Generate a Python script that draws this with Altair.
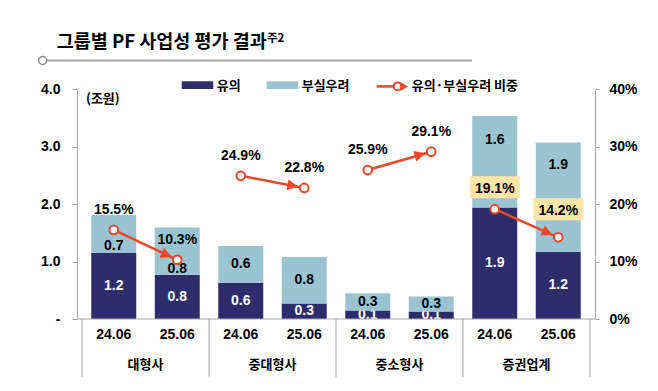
import math
import altair as alt
import pandas as pd

# ---------------- data ----------------
groups = ["대형사", "중대형사", "중소형사", "증권업계"]
periods = ["24.06", "25.06"]
caution = [1.15, 0.77, 0.63, 0.27, 0.15, 0.13, 1.94, 1.17]        # 유의 (조원)
insolvent = [0.66, 0.82, 0.64, 0.81, 0.30, 0.26, 1.59, 1.90]      # 부실우려 (조원)
caution_text = ["1.2", "0.8", "0.6", "0.3", "0.1", "0.1", "1.9", "1.2"]
insolvent_text = ["0.7", "0.8", "0.6", "0.8", "0.3", "0.3", "1.6", "1.9"]
ratio = [15.5, 10.3, 24.9, 22.8, 25.9, 29.1, 19.1, 14.2]          # 유의·부실우려 비중 (%)
y_ticks = [0, 1, 2, 3, 4]
pct_ticks = [0, 10, 20, 30, 40]
series_names = ["유의", "부실우려"]
line_name = "유의·부실우려 비중"
unit_text = "(조원)"
title_text = "그룹별 PF 사업성 평가 결과"
title_sup = "주2"

# ---------------- styles ----------------
W, H = 518, 230
DARK = "#2E2D6B"
LIGHT = "#9BC4D3"
ORANGE = "#E8472A"
BOX = "#FFE6A6"
GRAY = "#A6A6A6"
KFONT = "Noto Sans CJK KR"
NFONT = "Liberation Sans"
ARROW = "M -0.6 0 L -1.7 -0.55 L -1.7 0.55 Z"
LEG_ARROW = "M 1.05 0 L 0.3 -0.45 L 0.3 0.45 Z"
RECT = "M -2.5 -1.1 L 2.5 -1.1 L 2.5 1.1 L -2.5 1.1 Z"

n = len(caution)
lab_rows, pct_rows = [], []
for i in range(n):
    pos = i + 0.5
    lab_rows.append(dict(idx=i, pos=pos, zero=0.0, c_top=caution[i],
                         total=caution[i] + insolvent[i],
                         c_mid=caution[i] / 2,
                         i_mid=caution[i] + insolvent[i] / 2,
                         c_text=caution_text[i], i_text=insolvent_text[i],
                         period=periods[i % 2]))
    pct_rows.append(dict(idx=i, pos=pos, grp=i // 2, ratio=ratio[i],
                         label=f"{ratio[i]:.1f}%"))
lab_df = pd.DataFrame(lab_rows)
pct_df = pd.DataFrame(pct_rows)

arrow_rows = []
for g in range(len(groups)):
    r1, r2 = ratio[2 * g], ratio[2 * g + 1]
    ang = math.degrees(math.atan2(-(r2 - r1) / 40 * H, W / n)) % 360
    arrow_rows.append(dict(pos=2 * g + 1.5, ratio=r2, angle=ang))
arrow_df = pd.DataFrame(arrow_rows)

grp_df = pd.DataFrame(dict(name=groups, pos=[2 * g + 1 for g in range(len(groups))]))
sep_df = pd.DataFrame(dict(b=[2 * g for g in range(len(groups) + 1)]))
one = pd.DataFrame(dict(a=[0]))

xs = alt.Scale(domain=[0, n], nice=False, zero=False)
X = alt.X("pos:Q", scale=xs, axis=None)

def ys():
    return alt.Scale(domain=[0, 4], nice=False)

def ps():
    return alt.Scale(domain=[0, 40], nice=False)

left_axis = alt.Axis(values=y_ticks, orient="left", title=None, grid=False,
                     labelExpr="datum.value == 0 ? '-' : format(datum.value, '.1f')",
                     domainColor=GRAY, tickColor=GRAY, tickSize=5, domainWidth=1,
                     labelFont=NFONT, labelFontSize=14, labelFontWeight="bold",
                     labelColor="#000000", labelPadding=12)
right_axis = alt.Axis(values=pct_ticks, orient="right", title=None, grid=False,
                      labelExpr="datum.value + '%'",
                      domainColor=GRAY, tickColor=GRAY, tickSize=4, domainWidth=1,
                      labelFont=NFONT, labelFontSize=14, labelFontWeight="bold",
                      labelColor="#000000", labelPadding=10)

layers = []

# ---------------- decoration / legend (pixel placed) ----------------
def txt(s, x, y, size=13, align="left", font=KFONT):
    return alt.Chart(one).mark_text(font=font, fontSize=size, fontWeight="bold", color="#000000",
                                    align=align, baseline="middle").encode(
        x=alt.value(x), y=alt.value(y), text=alt.value(s))

layers.append(alt.Chart(one).mark_rule(color=GRAY, strokeWidth=2).encode(
    x=alt.value(-30), x2=alt.value(395), y=alt.value(-28.5)))
layers.append(alt.Chart(one).mark_point(shape="circle", size=64, fill="white", fillOpacity=1,
                                        stroke="#8C8C8C", strokeWidth=1.5, opacity=1).encode(
    x=alt.value(-34.3), y=alt.value(-28.5)))
layers.append(txt(title_text, -20.3, -47.3, size=18.5))
layers.append(txt(title_sup, 190, -50.5, size=11.5))
layers.append(txt(unit_text, 9, 9.7))

layers.append(alt.Chart(one).mark_rect(color=DARK).encode(
    x=alt.value(104.7), x2=alt.value(136.3), y=alt.value(-7.7), y2=alt.value(0)))
layers.append(alt.Chart(one).mark_rect(color=LIGHT).encode(
    x=alt.value(189.7), x2=alt.value(221.3), y=alt.value(-7.7), y2=alt.value(0)))
layers.append(txt(series_names[0], 139.7, -2.6))
layers.append(txt(series_names[1], 224.7, -2.6))
layers.append(alt.Chart(one).mark_rule(color=ORANGE, strokeWidth=2.5).encode(
    x=alt.value(299.7), x2=alt.value(318), y=alt.value(-2.6)))
layers.append(alt.Chart(one).mark_point(shape="circle", size=60, fill="white", fillOpacity=1,
                                        stroke=ORANGE, strokeWidth=2, opacity=1).encode(
    x=alt.value(320.5), y=alt.value(-2.6)))
layers.append(alt.Chart(one).mark_point(shape=LEG_ARROW, size=400, filled=True, color=ORANGE,
                                        opacity=1).encode(x=alt.value(320.5), y=alt.value(-2.6)))
layers.append(txt(line_name, 334.7, -2.6))

# ---------------- bars (dark, its labels, then light on top) ----------------
layers.append(alt.Chart(lab_df).mark_bar(size=45, color=DARK).encode(
    x=X, y=alt.Y("zero:Q", scale=ys(), axis=left_axis), y2="c_top:Q"))
layers.append(alt.Chart(lab_df).mark_text(font=NFONT, fontSize=14, fontWeight="bold", color="white").encode(
    x=X, y=alt.Y("c_mid:Q", scale=ys(), axis=None), text="c_text:N"))
layers.append(alt.Chart(lab_df).mark_bar(size=45, color=LIGHT).encode(
    x=X, y=alt.Y("c_top:Q", scale=ys(), axis=None), y2="total:Q"))

i_nudge = {0: 12, 1: 18, 6: -22, 7: -32}
layers.append(alt.Chart(lab_df).transform_filter(
    "indexof([" + ",".join(str(k) for k in i_nudge) + "], datum.idx) < 0"
).mark_text(font=NFONT, fontSize=14, fontWeight="bold", color="#000000").encode(
    x=X, y=alt.Y("i_mid:Q", scale=ys(), axis=None), text="i_text:N"))
for k, d in i_nudge.items():
    layers.append(alt.Chart(lab_df).transform_filter(f"datum.idx == {k}").mark_text(
        font=NFONT, fontSize=14, fontWeight="bold", color="#000000", dy=d).encode(
        x=X, y=alt.Y("i_mid:Q", scale=ys(), axis=None), text="i_text:N"))

# ---------------- category axis ----------------
layers.append(alt.Chart(one).mark_rule(color=GRAY, strokeWidth=1).encode(
    x=alt.value(0), x2=alt.value(W), y=alt.value(H)))
layers.append(alt.Chart(sep_df).mark_rule(color=GRAY, strokeWidth=1).encode(
    x=alt.X("b:Q", scale=xs, axis=None), y=alt.value(H), y2=alt.value(H + 58)))
layers.append(alt.Chart(lab_df).mark_text(font=NFONT, fontSize=14, fontWeight="bold",
                                          color="#000000", baseline="middle").encode(
    x=X, y=alt.value(H + 16), text="period:N"))
layers.append(alt.Chart(grp_df).mark_text(font=KFONT, fontSize=13, fontWeight="bold",
                                          color="#000000", baseline="middle").encode(
    x=X, y=alt.value(H + 46), text="name:N"))

# ---------------- ratio line ----------------
def PY(axis=None):
    return alt.Y("ratio:Q", scale=ps(), axis=axis)

layers.append(alt.Chart(pct_df).mark_line(color=ORANGE, strokeWidth=2.5).encode(
    x=X, y=PY(right_axis), detail="grp:N"))
layers.append(alt.Chart(arrow_df).mark_point(shape=ARROW, size=400, filled=True, color=ORANGE, opacity=1).encode(
    x=X, y=PY(), angle=alt.Angle("angle:Q", scale=None)))
layers.append(alt.Chart(pct_df).mark_point(shape="circle", size=75, fill="white", fillOpacity=1,
                                           stroke=ORANGE, strokeWidth=2, opacity=1).encode(x=X, y=PY()))

box_dy = {6: -22, 7: -28}
pct_dy = {7: -26}
for k, d in box_dy.items():
    layers.append(alt.Chart(pct_df).transform_filter(f"datum.idx == {k}").mark_point(
        shape=RECT, size=400, filled=True, color=BOX, opacity=1, yOffset=d).encode(x=X, y=PY()))
layers.append(alt.Chart(pct_df).transform_filter(
    "indexof([" + ",".join(str(k) for k in pct_dy) + "], datum.idx) < 0").mark_text(
    font=NFONT, fontSize=14, fontWeight="bold", color="#000000", dy=-20).encode(
    x=X, y=PY(), text="label:N"))
for k, d in pct_dy.items():
    layers.append(alt.Chart(pct_df).transform_filter(f"datum.idx == {k}").mark_text(
        font=NFONT, fontSize=14, fontWeight="bold", color="#000000", dy=d).encode(
        x=X, y=PY(), text="label:N"))

chart = alt.layer(*layers).resolve_scale(y="independent").properties(
    width=W, height=H,
    autosize=alt.AutoSizeParams(type="none"),
    padding={"left": 69, "top": 81, "right": 55, "bottom": 64},
    background="white",
).configure_view(stroke=None)

chart.save("out.html", embed_options={"renderer": "svg", "actions": False})
